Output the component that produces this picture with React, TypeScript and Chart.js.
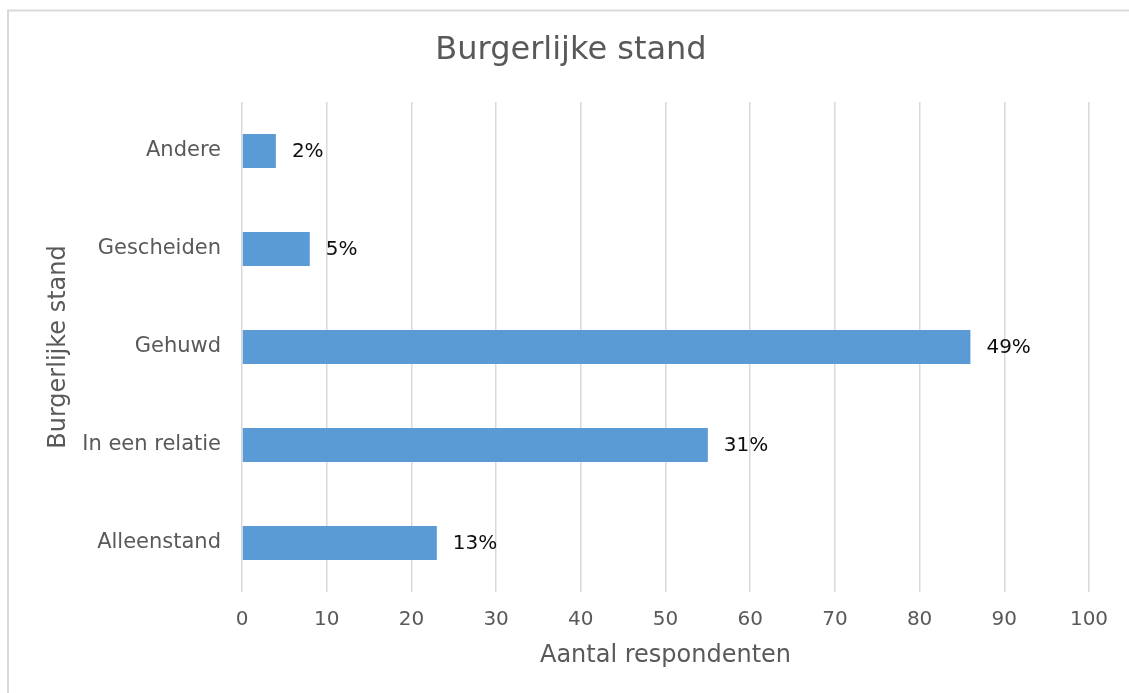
import React, { useEffect, useRef } from "react";
import { Chart, registerables } from "chart.js";

Chart.register(...registerables);

const chartTitle = "Burgerlijke stand";
const xAxisTitle = "Aantal respondenten";
const yAxisTitle = "Burgerlijke stand";
const categories = ["Andere", "Gescheiden", "Gehuwd", "In een relatie", "Alleenstand"];
const respondents = [4, 8, 86, 55, 23];
const percentLabels = ["2%", "5%", "49%", "31%", "13%"];
const xMin = 0;
const xMax = 100;
const xStep = 10;

const FONT = "'DejaVu Sans', Verdana, sans-serif";
const TEXT = "#595959";
const GRID = "#d9d9d9";
const BAR = "#5b9bd5";

const framePlugin = {
  id: "frame",
  beforeDraw(chart: any) {
    const { ctx, width, height } = chart;
    ctx.save();
    ctx.fillStyle = "#ffffff";
    ctx.fillRect(0, 0, width, height);
    ctx.strokeStyle = GRID;
    ctx.lineWidth = 2;
    ctx.strokeRect(8, 10.5, width + 20, height + 20);
    ctx.fillStyle = TEXT;
    ctx.font = `32px ${FONT}`;
    ctx.textAlign = "center";
    ctx.textBaseline = "middle";
    ctx.fillText(chartTitle, 571, 51);
    ctx.restore();
  },
};

const dataLabelPlugin = {
  id: "dataLabels",
  afterDatasetsDraw(chart: any) {
    const { ctx } = chart;
    const meta = chart.getDatasetMeta(0);
    ctx.save();
    ctx.fillStyle = "#0d0d0d";
    ctx.font = `20px ${FONT}`;
    ctx.textAlign = "left";
    ctx.textBaseline = "middle";
    meta.data.forEach((bar: any, i: number) => {
      ctx.fillText(percentLabels[i], bar.x + 16, bar.y + 1);
    });
    ctx.restore();
  },
};

export default function App() {
  const canvasRef = useRef<HTMLCanvasElement | null>(null);

  useEffect(() => {
    if (!canvasRef.current) return;
    const chart = new Chart(canvasRef.current, {
      type: "bar",
      data: {
        labels: categories,
        datasets: [
          {
            data: respondents,
            backgroundColor: BAR,
            borderWidth: 0,
            categoryPercentage: 1,
            barPercentage: 0.347,
          },
        ],
      },
      options: {
        indexAxis: "y",
        animation: false,
        responsive: false,
        maintainAspectRatio: false,
        layout: { padding: { top: 102, right: 40, left: 0, bottom: 0 } },
        plugins: {
          legend: { display: false },
          tooltip: { enabled: false },
          title: { display: false },
        },
        scales: {
          x: {
            type: "linear",
            min: xMin,
            max: xMax,
            ticks: {
              stepSize: xStep,
              padding: 16,
              color: TEXT,
              font: { family: FONT, size: 20 },
            },
            grid: { color: GRID, lineWidth: 1.5, drawTicks: false },
            border: { display: false },
            title: {
              display: true,
              text: xAxisTitle,
              color: TEXT,
              font: { family: FONT, size: 24 },
              padding: { top: 0, bottom: 23 },
            },
            afterFit(scale: any) {
              scale.height = 101;
            },
          },
          y: {
            type: "category",
            ticks: {
              padding: 21,
              color: TEXT,
              font: { family: FONT, size: 21 },
            },
            grid: { display: false, drawTicks: false },
            border: { display: false },
            title: {
              display: true,
              text: yAxisTitle,
              color: TEXT,
              font: { family: FONT, size: 24 },
              padding: { top: 44, bottom: 0 },
            },
            afterFit(scale: any) {
              scale.width = 242;
            },
          },
        },
      },
      plugins: [framePlugin, dataLabelPlugin],
    } as any);
    return () => chart.destroy();
  }, []);

  return (
    <div style={{ position: "fixed", left: 0, top: 0, width: 1129, height: 693 }}>
      <canvas ref={canvasRef} width={1129} height={693} style={{ display: "block" }} />
    </div>
  );
}
